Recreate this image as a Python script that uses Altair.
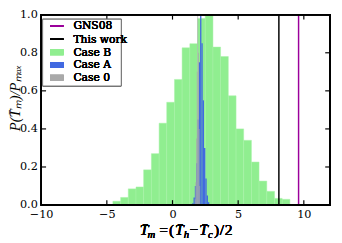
import altair as alt
import pandas as pd

# ---- data ----
case_b_edges = [-4.54, -3.95, -3.37, -2.78, -2.20, -1.61, -1.02, -0.44, 0.15, 0.73,
                1.32, 1.91, 2.49, 3.08, 3.66, 4.25, 4.84, 5.42, 6.01, 6.59,
                7.18, 7.77, 8.35, 8.94]
case_b_heights = [0.02, 0.04, 0.085, 0.095, 0.185, 0.27, 0.43, 0.54, 0.66, 0.826,
                  0.848, 0.98, 1.0, 0.83, 0.78, 0.574, 0.40, 0.34, 0.226, 0.126,
                  0.072, 0.035, 0.03]

case_a_edges = [1.5, 1.6, 1.7, 1.8, 1.9, 2.0, 2.1, 2.2, 2.3, 2.4, 2.5, 2.6, 2.7, 2.8]
case_a_heights = [0.01, 0.04, 0.10, 0.22, 0.45, 0.75, 1.0, 0.85, 0.55, 0.30, 0.14, 0.05, 0.015]

case_0_edges = [1.70, 1.75, 1.80, 1.85, 1.90, 1.95, 2.00, 2.05, 2.10]
case_0_heights = [0.03, 0.12, 0.35, 0.70, 1.0, 0.80, 0.40, 0.10]

this_work = [8.1]
gns08 = [9.6]

x_ticks = [-10, -5, 0, 5, 10]
y_ticks = [0.0, 0.2, 0.4, 0.6, 0.8, 1.0]

legend_names = ["GNS08", "This work", "Case B", "Case A", "Case 0"]
legend_kinds = ["line", "line", "patch", "patch", "patch"]
legend_colors = ["#9b009b", "black", "#90EE90", "#4169E1", "#A9A9A9"]

# ---- layout ----
W, H = 296, 195
FONT = "DejaVu Serif"
TFONT = "Liberation Serif"

xs = alt.Scale(domain=[-10, 12], nice=False, zero=False)
ys = alt.Scale(domain=[0, 1], nice=False, zero=True)


def hist_df(edges, heights):
    return pd.DataFrame({"x0": edges[:-1], "x1": edges[1:], "h": heights})


x_axis = alt.Axis(values=x_ticks, format="d", ticks=False, domain=False, grid=False,
                  labelFont=FONT, labelFontSize=11.5, labelFontWeight="normal",
                  labelColor="black", labelPadding=4, labelOverlap=False, labelFlush=False,
                  title=None)
y_axis = alt.Axis(values=y_ticks, format=".1f", ticks=False, domain=False, grid=False,
                  labelFont=FONT, labelFontSize=11.5, labelFontWeight="normal",
                  labelColor="black", labelPadding=4, labelOverlap=False, labelFlush=False,
                  title="P(T\u0304\u2098)/P\u2098\u2090\u2093", titleFont=TFONT,
                  titleFontStyle="italic", titleFontWeight="normal", titleFontSize=15,
                  titleColor="black", titleX=-27, titleY=85, titleAngle=270,
                  titleAlign="center", titleBaseline="middle")

XA = dict(scale=xs, axis=x_axis)
YA = dict(scale=ys, axis=y_axis)

bars_b = alt.Chart(hist_df(case_b_edges, case_b_heights)).mark_rect(
    color="#90EE90", stroke="#a8f2a8", strokeWidth=0.5
).encode(x=alt.X("x0:Q", **XA), x2="x1:Q", y=alt.Y("h:Q", **YA), y2=alt.datum(0))

bars_a = alt.Chart(hist_df(case_a_edges, case_a_heights)).mark_rect(color="#4169E1").encode(
    x=alt.X("x0:Q", **XA), x2="x1:Q", y=alt.Y("h:Q", **YA), y2=alt.datum(0)
)

bars_0 = alt.Chart(hist_df(case_0_edges, case_0_heights)).mark_rect(color="#A9A9A9").encode(
    x=alt.X("x0:Q", **XA), x2="x1:Q", y=alt.Y("h:Q", **YA), y2=alt.datum(0)
)

line_tw = alt.Chart(pd.DataFrame({"x": this_work})).mark_rule(color="black", strokeWidth=1.5).encode(
    x=alt.X("x:Q", **XA)
)
line_gns = alt.Chart(pd.DataFrame({"x": gns08})).mark_rule(color="#9b009b", strokeWidth=1.5).encode(
    x=alt.X("x:Q", **XA)
)

xt = pd.DataFrame({"x": x_ticks})
yt = pd.DataFrame({"y": y_ticks})
tick_style = dict(color="black", strokeWidth=1.2)
ticks = [
    alt.Chart(xt).mark_rule(**tick_style).encode(x=alt.X("x:Q", **XA), y=alt.value(H), y2=alt.value(H - 5)),
    alt.Chart(xt).mark_rule(**tick_style).encode(x=alt.X("x:Q", **XA), y=alt.value(0), y2=alt.value(5)),
    alt.Chart(yt).mark_rule(**tick_style).encode(y=alt.Y("y:Q", **YA), x=alt.value(0), x2=alt.value(5)),
    alt.Chart(yt).mark_rule(**tick_style).encode(y=alt.Y("y:Q", **YA), x=alt.value(W), x2=alt.value(W - 5)),
]

frame = alt.Chart(xt).mark_rect(fillOpacity=0, stroke="black", strokeWidth=1.5).encode(
    x=alt.value(0), x2=alt.value(W), y=alt.value(0), y2=alt.value(H)
)

# ---- legend ----
legend_layers = [
    alt.Chart(xt).mark_rect(fill="white", stroke="#666666", strokeWidth=0.8).encode(
        x=alt.value(1.5), x2=alt.value(82), y=alt.value(4.7), y2=alt.value(73)
    )
]
row_y = [11.5, 25.0, 38.5, 51.5, 64.5]
for name, kind, col, ry in zip(legend_names, legend_kinds, legend_colors, row_y):
    if kind == "line":
        legend_layers.append(
            alt.Chart(xt).mark_rule(color=col, strokeWidth=1.5).encode(
                x=alt.value(9), x2=alt.value(23), y=alt.value(ry)
            )
        )
    else:
        legend_layers.append(
            alt.Chart(xt).mark_rect(color=col).encode(
                x=alt.value(9), x2=alt.value(23), y=alt.value(ry - 3), y2=alt.value(ry + 3)
            )
        )
    legend_layers.append(
        alt.Chart(xt).mark_text(text=name, font=FONT, fontSize=11, fontWeight="normal",
                                align="left", baseline="middle", color="black").encode(
            x=alt.value(33), y=alt.value(ry + 0.5)
        )
    )

# ---- x-axis title (math-like, built from pieces) ----
BASE = 226
pieces = [
    ("T\u0304", 101, BASE, 16, "italic"),
    ("m", 109, BASE + 3, 11, "italic"),
    ("=", 121, BASE, 16, "normal"),
    ("(", 131, BASE, 16, "normal"),
    ("T\u0304", 137, BASE, 16, "italic"),
    ("h", 146, BASE + 3, 11, "italic"),
    ("\u2212", 152, BASE, 16, "normal"),
    ("T\u0304", 162, BASE, 16, "italic"),
    ("c", 171, BASE + 3, 11, "italic"),
    (")", 177, BASE, 16, "normal"),
    ("/", 183, BASE, 16, "normal"),
    ("2", 188, BASE, 16, "normal"),
]
title_layers = [
    alt.Chart(xt).mark_text(text=t, font=TFONT, fontSize=s, fontStyle=st, fontWeight="normal",
                            align="left", baseline="alphabetic", color="black").encode(
        x=alt.value(px), y=alt.value(py)
    )
    for t, px, py, s, st in pieces
]

chart = alt.layer(
    bars_b, bars_a, bars_0, line_tw, line_gns, *ticks, frame, *legend_layers, *title_layers
).properties(
    width=W, height=H,
    autosize=alt.AutoSizeParams(type="none"),
    padding={"left": 34, "top": 4, "right": 4, "bottom": 36},
).configure_view(stroke=None)

chart.save("out.html", embed_options={"renderer": "svg", "actions": False})
